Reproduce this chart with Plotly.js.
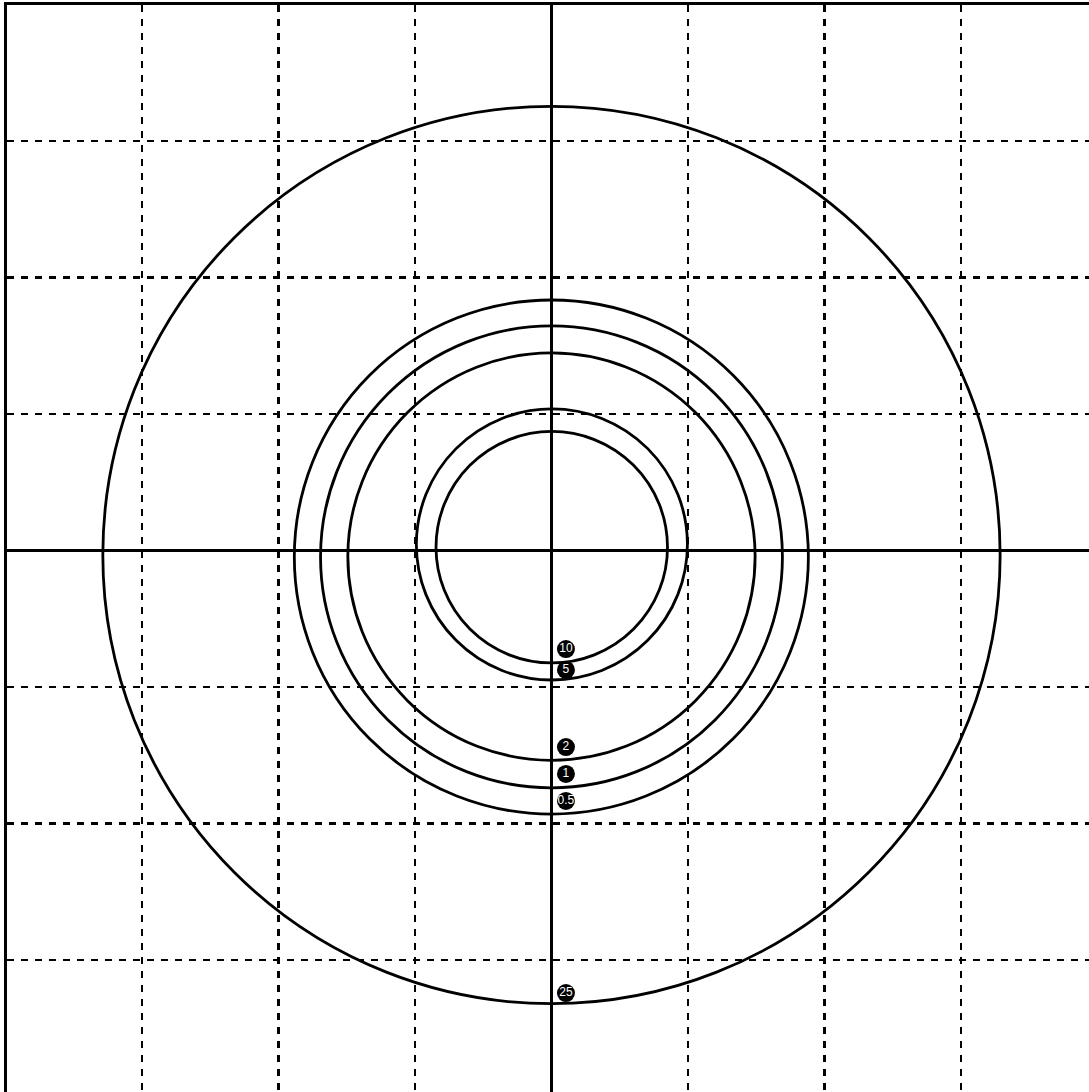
<!DOCTYPE html>
<html>
<head>
<meta charset="utf-8">
<script src="https://cdn.plot.ly/plotly-3.0.1.min.js"></script>
<style>
  html, body { margin: 0; padding: 0; background: #ffffff; overflow: hidden; }
  #chart { width: 1089px; height: 1092px; }
</style>
</head>
<body>
<div id="chart"></div>
<script>
// ---- data ----
const circleLabels  = ["0.5", "1", "2", "5", "10", "25"];
const circleRadius  = [1.883, 1.692, 1.492, 0.993, 0.848, 3.287];
const circleCenterX = [-0.001, 0.0, 0.0, 0.003, 0.002, 0.0];
const circleCenterY = [-0.048, -0.047, -0.045, 0.044, 0.024, -0.033];
const labelX        = [0.106, 0.106, 0.106, 0.106, 0.106, 0.106];
const labelY        = [-1.835, -1.637, -1.44, -0.875, -0.722, -3.242];
const gridTicks     = [-3, -2, -1, 0, 1, 2, 3];

// ---- derived drawing ----
const shapes = circleRadius.map((r, i) => ({
  type: 'circle', xref: 'x', yref: 'y',
  x0: circleCenterX[i] - r, x1: circleCenterX[i] + r,
  y0: circleCenterY[i] - r, y1: circleCenterY[i] + r,
  line: { color: '#000000', width: 2.8 },
  fillcolor: 'rgba(0,0,0,0)', layer: 'above'
}));

const labelTrace = {
  type: 'scatter',
  mode: 'markers+text',
  x: labelX,
  y: labelY,
  text: circleLabels,
  textposition: 'middle center',
  textfont: { family: 'Liberation Sans, Arial, sans-serif', size: 12, color: '#ffffff' },
  marker: { size: 18, color: '#000000', line: { width: 0 } },
  hoverinfo: 'skip',
  showlegend: false,
  cliponaxis: false
};

const axisCommon = {
  tickmode: 'array',
  tickvals: gridTicks,
  showticklabels: false,
  ticks: '',
  showgrid: true,
  gridcolor: '#000000',
  gridwidth: 2.8,
  griddash: '7px,7px',
  zeroline: true,
  zerolinecolor: '#000000',
  zerolinewidth: 3,
  showline: true,
  linecolor: '#000000',
  linewidth: 3.5,
  fixedrange: true
};

const layout = {
  width: 1089,
  height: 1092,
  margin: { l: 7, r: 0, t: 5, b: 0, pad: 0 },
  paper_bgcolor: '#ffffff',
  plot_bgcolor: '#ffffff',
  showlegend: false,
  xaxis: Object.assign({}, axisCommon, { range: [-3.989, 3.938], side: 'top' }),
  yaxis: Object.assign({}, axisCommon, { range: [-3.967, 3.996], side: 'left' }),
  shapes: shapes
};

Plotly.newPlot('chart', [labelTrace], layout, { displayModeBar: false, staticPlot: true });
</script>
</body>
</html>
